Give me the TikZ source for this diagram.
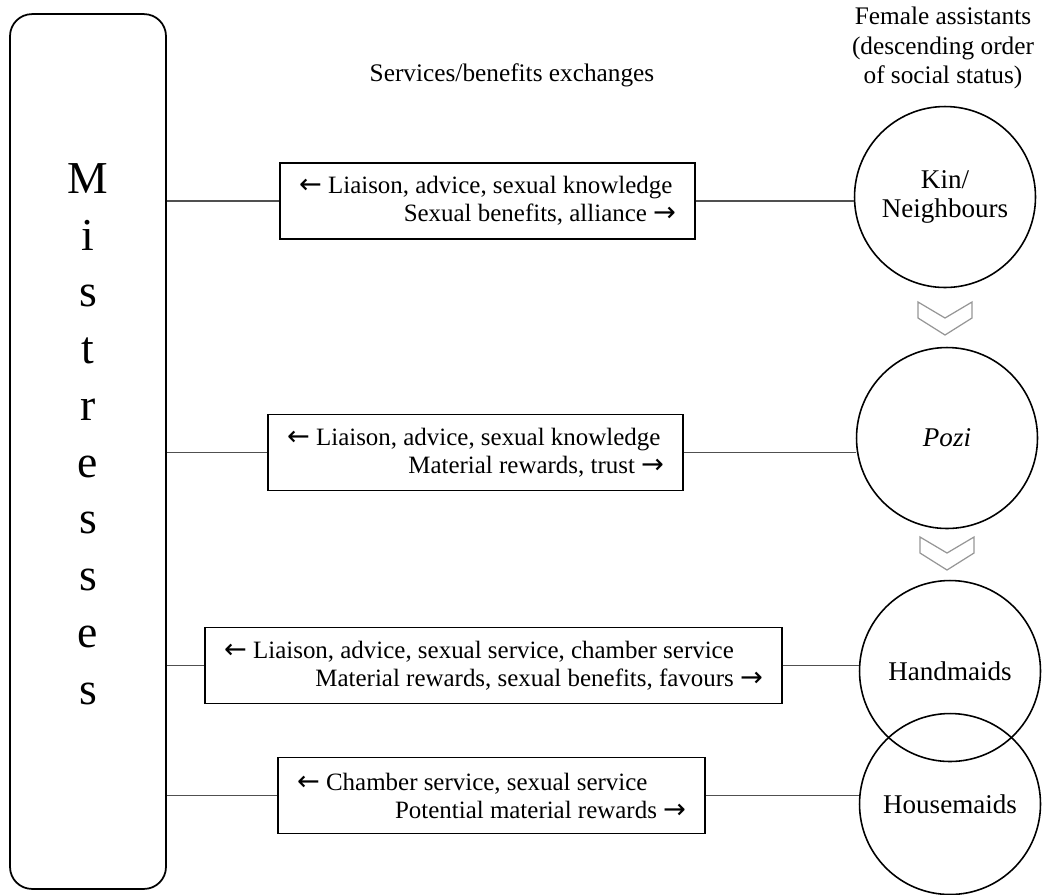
\documentclass[tikz,border=0pt]{standalone}
\usepackage{fontspec}
\setmainfont{Liberation Serif}
\newfontfamily\arrowfont{DejaVu Sans}
\usetikzlibrary{positioning,calc}
\definecolor{linkgray}{RGB}{80,80,80}
\definecolor{chevgray}{RGB}{150,150,150}
\newcommand{\larr}{{\arrowfont\fontsize{15.5}{16}\selectfont ←}}
\newcommand{\rarr}{{\arrowfont\fontsize{15.5}{16}\selectfont →}}
\tikzset{
  mbox/.style={draw, line width=1pt, rounded corners=0.44cm,
               minimum width=3.12cm, minimum height=17.5cm},
  exbox/.style={draw, line width=0.7pt, inner xsep=0.38cm, minimum height=1.52cm,
                align=flush left, font=\fontsize{14.2}{16}\selectfont},
  who/.style={circle, draw, line width=0.9pt, minimum size=3.62cm, inner sep=0pt,
              align=center, font=\fontsize{15.4}{17}\selectfont},
  hdr/.style={align=center, font=\fontsize{14.4}{17}\selectfont},
  link/.style={linkgray, line width=0.8pt},
  chevron/.style={draw=chevgray, line width=0.7pt},
}

\begin{document}
\begin{tikzpicture}[x=0.02cm, y=-0.02cm]
  \useasboundingbox (0,0) rectangle (1050,894);
  % mistresses column
  \node[mbox] (mistr) at (88,451.5) {};
  \node[inner sep=0pt, align=center, anchor=north,
        font=\fontsize{26}{32.3}\selectfont] (mlab) at (88,163) {M\\i\\s\\t\\r\\e\\s\\s\\e\\s};
  % headings
  \node[hdr] (title) at (512,75) {Services/benefits exchanges};
  \node[hdr] (fem) at (943,48) {Female assistants\\(descending order\\of social status)};
  % female assistants
  \node[who] (kin) at (945,197) {Kin/\\Neighbours};
  \node[who] (pozi) at (947,438) {\textit{Pozi}};
  \node[who] (hand) at (950,671) {Handmaids};
  \node[who] (house) at (950,804) {Housemaids};
  % exchanges
  \node[exbox, text width=7.54cm] (ex1) at (487.5,201)
    {\larr\ Liaison, advice, sexual knowledge\\\hspace*{\fill}Sexual benefits, alliance \rarr};
  \node[exbox, text width=7.54cm] (ex2) at (475.5,452.5)
    {\larr\ Liaison, advice, sexual knowledge\\\hspace*{\fill}Material rewards, trust \rarr};
  \node[exbox, text width=10.78cm] (ex3) at (493.5,665.5)
    {\larr\ Liaison, advice, sexual service, chamber service\\\hspace*{\fill}Material rewards, sexual benefits, favours \rarr};
  \node[exbox, text width=7.78cm] (ex4) at (491.5,795.5)
    {\larr\ Chamber service, sexual service\\\hspace*{\fill}Potential material rewards \rarr};
  \foreach \e/\w in {ex1/kin, ex2/pozi, ex3/hand, ex4/house} {
    \draw[link] (mistr.east |- \e.west) -- (\e.west);
    \draw[link] (\e.east) -- (\e.east -| \w.west);
  }
  % status order
  \foreach \cx/\cy in {945/302, 947/537}
    \draw[chevron] (\cx-27,\cy) -- ++(0,16) -- ++(27,17) -- ++(27,-17) -- ++(0,-16) -- ++(-27,16) -- cycle;
\end{tikzpicture}
\end{document}
